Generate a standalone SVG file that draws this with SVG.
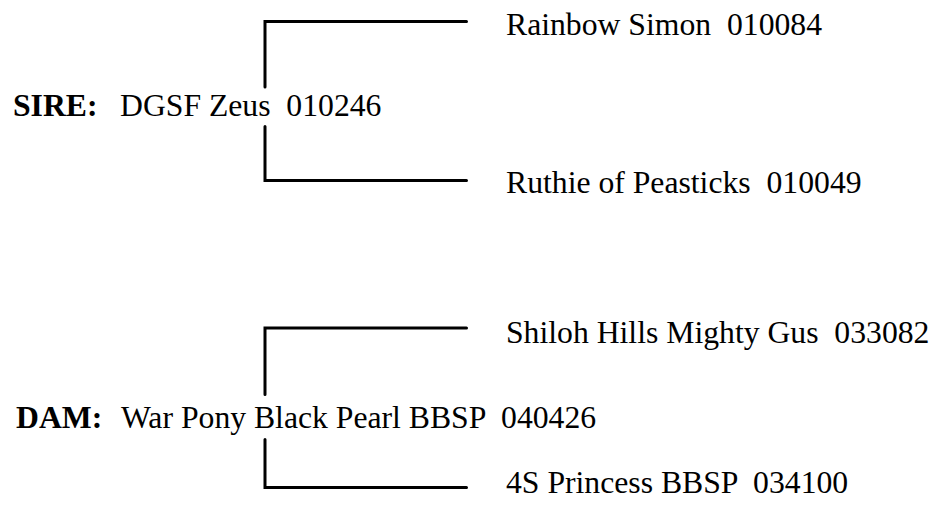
<svg xmlns="http://www.w3.org/2000/svg" width="935" height="506" viewBox="0 0 935 506">
<style>
text{font-family:"Liberation Serif","Times New Roman",serif;font-size:31.7px;fill:#000;white-space:pre}
.b{font-weight:bold}
.c{fill:none;stroke:#000;stroke-width:3;stroke-linecap:round;stroke-linejoin:miter}
</style>
<rect width="935" height="506" fill="#fff"/>
<g id="connectors">
<path class="c" d="M265,87 V21.5 H466.5"/>
<path class="c" d="M265,126.5 V180.5 H466.5"/>
<path class="c" d="M265,394.5 V328 H466.5"/>
<path class="c" d="M265,439.5 V487.5 H466.5"/>
</g>
<g id="sire">
<text x="13" y="116" class="b">SIRE:</text>
<text x="120" y="116" xml:space="preserve">DGSF Zeus  010246</text>
</g>
<g id="sire-sire"><text x="506" y="35" xml:space="preserve">Rainbow Simon  010084</text></g>
<g id="sire-dam"><text x="506" y="193" xml:space="preserve">Ruthie of Peasticks  010049</text></g>
<g id="dam">
<text x="16" y="428" class="b">DAM:</text>
<text x="121" y="428" xml:space="preserve">War Pony Black Pearl BBSP  040426</text>
</g>
<g id="dam-sire"><text x="506" y="343" xml:space="preserve">Shiloh Hills Mighty Gus  033082</text></g>
<g id="dam-dam"><text x="506" y="493" xml:space="preserve">4S Princess BBSP  034100</text></g>
</svg>
